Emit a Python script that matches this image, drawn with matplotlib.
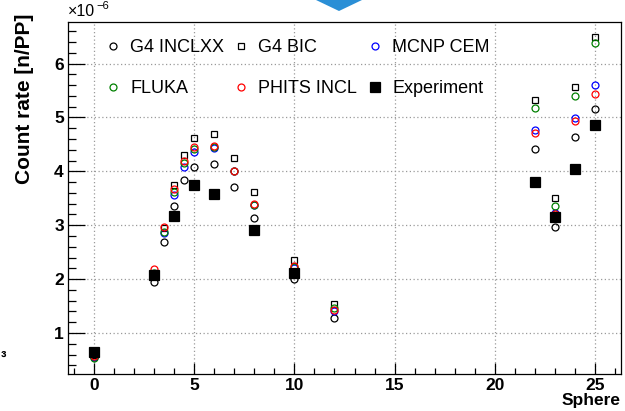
import numpy as np
import matplotlib
matplotlib.use("Agg")
import matplotlib.pyplot as plt
from matplotlib.ticker import MultipleLocator
from matplotlib.patches import Polygon

plt.rcParams['font.family'] = ['Liberation Sans', 'DejaVu Sans']

# Sphere configurations (x positions) shared by the simulations
sphere_sim = [0, 3, 3.5, 4, 4.5, 5, 6, 7, 8, 10, 12, 22, 23, 24, 25]
# Simulated count rates, in units of 1e-6 n/PP
g4_inclxx = [0.55, 1.95, 2.68, 3.35, 3.83, 4.08, 4.13, 3.70, 3.14, 2.00, 1.28, 4.41, 2.96, 4.64, 5.16]
g4_bic    = [0.60, 2.12, 2.95, 3.75, 4.31, 4.61, 4.69, 4.25, 3.61, 2.36, 1.54, 5.32, 3.51, 5.57, 6.50]
mcnp_cem  = [0.56, 2.10, 2.85, 3.56, 4.08, 4.35, 4.43, 4.00, 3.38, 2.20, 1.40, 4.77, 3.22, 4.99, 5.60]
fluka     = [0.54, 2.12, 2.88, 3.62, 4.15, 4.42, 4.45, 4.00, 3.38, 2.22, 1.46, 5.18, 3.35, 5.39, 6.38]
phits     = [0.57, 2.19, 2.97, 3.68, 4.19, 4.45, 4.47, 4.00, 3.39, 2.24, 1.43, 4.72, 3.20, 4.94, 5.43]

# Measured count rates
sphere_exp = [0, 3, 4, 5, 6, 8, 10, 22, 23, 24, 25]
experiment = [0.64, 2.07, 3.17, 3.74, 3.57, 2.91, 2.11, 3.80, 3.16, 4.05, 4.85]

W, H = 625, 411
fig = plt.figure(figsize=(W / 100, H / 100), dpi=100)
L, R, T, B = 68, 621, 22, 374
ax = fig.add_axes([L / W, 1 - B / H, (R - L) / W, (B - T) / H])
ax.set_xlim(-1.3, 26.3)
ax.set_ylim(0.24, 6.77)

ms_open = 5.0
mew = 0.9
series = [
    (sphere_sim, g4_inclxx, 'o', 'black', 'none', ms_open, 'G4 INCLXX'),
    (sphere_sim, g4_bic, 's', 'black', 'none', ms_open, 'G4 BIC'),
    (sphere_sim, mcnp_cem, 'o', '#0000ff', 'none', ms_open, 'MCNP CEM'),
    (sphere_sim, fluka, 'o', '#008000', 'none', ms_open, 'FLUKA'),
    (sphere_sim, phits, 'o', '#ff0000', 'none', ms_open, 'PHITS INCL'),
    (sphere_exp, experiment, 's', 'black', 'black', 6.6, 'Experiment'),
]
handles = []
for xs, ys, m, c, fc, ms, lab in series:
    h, = ax.plot(xs, ys, linestyle='none', marker=m, markersize=ms,
                 markeredgecolor=c, markerfacecolor=fc, markeredgewidth=mew,
                 label=lab, zorder=3)
    handles.append(h)

# Grid and ticks
ax.grid(True, which='major', color='#9a9a9a', linestyle=(0, (1, 2)), linewidth=0.9)
ax.xaxis.set_major_locator(MultipleLocator(5))
ax.xaxis.set_minor_locator(MultipleLocator(1))
ax.yaxis.set_major_locator(MultipleLocator(1))
ax.yaxis.set_minor_locator(MultipleLocator(0.2))
ax.tick_params(axis='both', which='both', direction='in', top=False, right=False,
               width=0.9, colors='black')
ax.tick_params(axis='y', which='major', length=12.5, pad=3)
ax.tick_params(axis='y', which='minor', length=6)
ax.tick_params(axis='x', which='major', length=8, pad=3)
ax.tick_params(axis='x', which='minor', length=4)
for lbl in ax.get_xticklabels() + ax.get_yticklabels():
    lbl.set_fontweight('bold')
    lbl.set_fontsize(12.5)
for s in ax.spines.values():
    s.set_linewidth(0.9)

# Axis titles
fig.text(25 / W, 1 - 14 / H, 'Count rate [n/PP]', rotation=90, ha='center', va='top',
         fontsize=15, fontweight='bold')
fig.text(621 / W, 1 - 400 / H, 'Sphere', ha='right', va='center',
         fontsize=12.5, fontweight='bold')
fig.text(68 / W, 1 - 11 / H, '×10', ha='left', va='center', fontsize=11.5)
fig.text(96 / W, 1 - 6 / H, '−6', ha='left', va='center', fontsize=8)

# Legend, three columns of two entries
cols = [(0, 3), (1, 4), (2, 5)]
col_x = [104, 232, 366]
legs = []
for (i, j), cx in zip(cols, col_x):
    lg = ax.legend([handles[i], handles[j]], [series[i][6], series[j][6]],
                   loc='upper left', bbox_to_anchor=(cx / W, 1 - 39 / H),
                   bbox_transform=fig.transFigure, frameon=False, fontsize=13,
                   handlelength=1.0, handletextpad=0.45, labelspacing=1.33,
                   borderpad=0, borderaxespad=0, markerscale=1.0)
    legs.append(lg)
for lg in legs[:-1]:
    ax.add_artist(lg)

# Decorative elements at the figure edges
fig.patches.append(Polygon([[316 / W, 1.0], [362 / W, 1.0], [339 / W, 1 - 11 / H]],
                           closed=True, transform=fig.transFigure,
                           facecolor='#2a8fd6', edgecolor='none'))
fig.text(1 / W, 1 - 358 / H, '³', ha='left', va='center', fontsize=12, fontweight='bold')

fig.savefig('out.png', dpi=100)
